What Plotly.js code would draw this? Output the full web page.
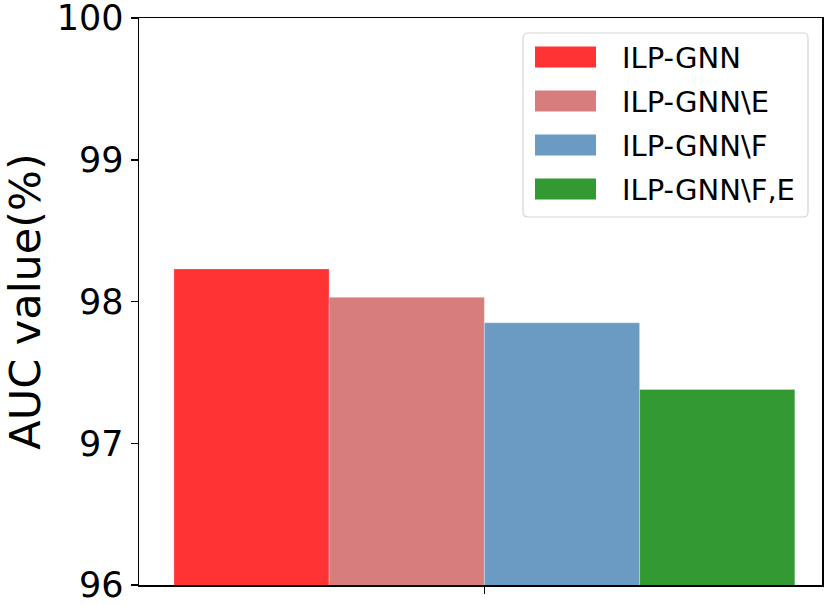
<!DOCTYPE html>
<html>
<head>
<meta charset="utf-8">
<script src="https://cdn.plot.ly/plotly-3.0.1.min.js"></script>
<style>html,body{margin:0;padding:0;background:#fff;}#chart{width:830px;height:605px;}</style>
</head>
<body>
<div id="chart"></div>
<script>
const category = ['AUC'];
const seriesNames = ['ILP-GNN', 'ILP-GNN\\E', 'ILP-GNN\\F', 'ILP-GNN\\F,E'];
const seriesValues = [98.23, 98.03, 97.85, 97.38];
const yTicks = [96, 97, 98, 99, 100];

const colors = ['#ff3333', '#d77d7d', '#6b9bc3', '#339933'];
const W = 830, H = 605;
const M = {l: 139, r: 8, t: 18, b: 20};
const PW = W - M.l - M.r, PH = H - M.t - M.b;
const px = x => (x - M.l) / PW;
const py = y => (H - M.b - y) / PH;

const traces = seriesNames.map((name, i) => ({
  type: 'bar',
  name: name,
  x: category,
  y: [seriesValues[i]],
  base: 0,
  marker: {color: colors[i], line: {width: 0.6, color: 'rgba(255,255,255,0.5)'}},
  showlegend: false,
  hoverinfo: 'skip'
}));

// custom legend (matplotlib-like wide swatches)
const shapes = [];
const annotations = [];
const bx0 = 523, bx1 = 808, by0 = 33, by1 = 217, r = 5;
const rx = r / PW, ry = r / PH;
const X0 = px(bx0), X1 = px(bx1), Y0 = py(by1), Y1 = py(by0);
shapes.push({
  type: 'path', xref: 'paper', yref: 'paper',
  path: `M${X0 + rx},${Y1} L${X1 - rx},${Y1} Q${X1},${Y1} ${X1},${Y1 - ry} L${X1},${Y0 + ry} Q${X1},${Y0} ${X1 - rx},${Y0} L${X0 + rx},${Y0} Q${X0},${Y0} ${X0},${Y0 + ry} L${X0},${Y1 - ry} Q${X0},${Y1} ${X0 + rx},${Y1} Z`,
  fillcolor: 'rgba(255,255,255,0.8)',
  line: {color: '#d6d6d6', width: 1.2}
});
seriesNames.forEach((name, i) => {
  const cy = 57 + 44 * i;
  shapes.push({
    type: 'rect', xref: 'paper', yref: 'paper',
    x0: px(535), x1: px(596), y0: py(cy + 10.5), y1: py(cy - 10.5),
    fillcolor: colors[i], line: {width: 0}
  });
  annotations.push({
    xref: 'paper', yref: 'paper', x: px(620), y: py(cy + 1),
    xanchor: 'left', yanchor: 'middle', showarrow: false,
    text: name, font: {family: 'DejaVu Sans', size: 29, color: '#000'}
  });
});

const layout = {
  width: W, height: H,
  margin: M,
  paper_bgcolor: '#fff', plot_bgcolor: '#fff',
  barmode: 'group', bargap: 0.2, bargroupgap: 0,
  font: {family: 'DejaVu Sans', color: '#000'},
  xaxis: {
    type: 'category', range: [-0.445, 0.435],
    showticklabels: false, ticks: 'outside', ticklen: 7, tickwidth: 1.5, tickcolor: '#000',
    showline: true, linecolor: '#000', linewidth: 1.5, mirror: true,
    showgrid: false, zeroline: false, fixedrange: true
  },
  yaxis: {
    range: [96 - 1e-6, 100 + 1e-6], tickvals: yTicks, ticktext: yTicks.map(String),
    ticks: 'outside', ticklen: 7, tickwidth: 1.5, tickcolor: '#000',
    tickfont: {family: 'DejaVu Sans', size: 35, color: '#000'},
    ticklabeloverflow: 'allow',
    showline: true, linecolor: '#000', linewidth: 1.5, mirror: true,
    showgrid: false, zeroline: false,
    title: {text: 'AUC value(%)', font: {family: 'DejaVu Sans', size: 43, color: '#000'}, standoff: 10}
  },
  shapes: shapes,
  annotations: annotations,
  showlegend: false
};

Plotly.newPlot('chart', traces, layout, {displayModeBar: false, staticPlot: true});
</script>
</body>
</html>
